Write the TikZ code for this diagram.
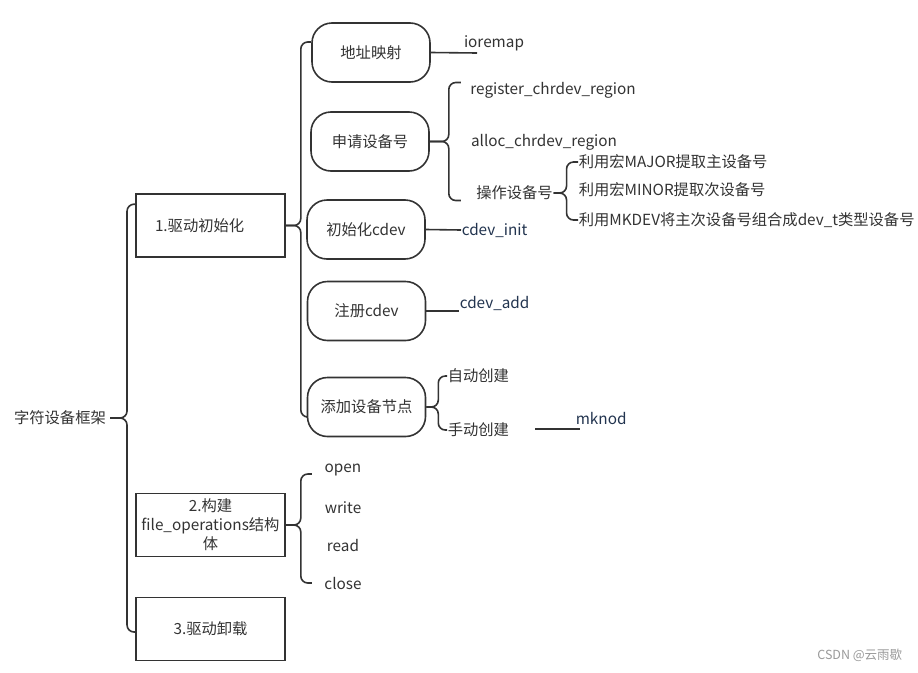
\documentclass[tikz,border=0pt]{standalone}
\usepackage{fontspec}
\setmainfont{Noto Sans CJK SC}
\usepackage{tikz}
\definecolor{ink}{HTML}{333333}
\definecolor{navy}{HTML}{22344F}
\definecolor{mark}{HTML}{9A9A9A}

\begin{document}
\begin{tikzpicture}
        [x=1pt,y=-1pt,line width=1.6pt,
         every node/.style={font=\fontsize{15.3}{19}\selectfont,text=ink},
         box/.style={draw=ink,minimum width=149,minimum height=63},
         pill/.style={draw=ink,rounded corners=20,minimum width=118,minimum height=59},
         brace/.style={draw=ink,rounded corners=7},
         link/.style={draw=ink}]
        \useasboundingbox[fill=white] (0,0) rectangle (918,672);

        \node (root) at (60,418) {字符设备框架};
        \node[box,text width=111,inner xsep=19,align=left] (b1) at (210.5,225.5) {1.驱动初始化};
        \node[box,inner xsep=1,align=center] (b2) at (210.5,525) {2.构建\\file\_operations结构\\体};
        \node[box] (b3) at (210.5,629) {3.驱动卸载};

        \node[pill] (dz) at (371,52.5) {地址映射};
        \node[pill] (sq) at (370,141.5) {申请设备号};
        \node[pill] (cs) at (366,229.5) {初始化cdev};
        \node[pill] (zc) at (366.5,311) {注册cdev};
        \node[pill] (tj) at (366.5,407) {添加设备节点};

        \node (io) at (494,43) {ioremap};
        \node (rg) at (553,90) {register\_chrdev\_region};
        \node (al) at (544,142) {alloc\_chrdev\_region};
        \node[inner xsep=0] (cz) at (514.5,193) {操作设备号};
        \node[anchor=west,inner xsep=0] (ma) at (578,162) {利用宏MAJOR提取主设备号};
        \node[anchor=west,inner xsep=0] (mi) at (578,190) {利用宏MINOR提取次设备号};
        \node[anchor=west,inner xsep=0] (mk) at (578,220) {利用MKDEV将主次设备号组合成dev\_t类型设备号};
        \node[text=navy,anchor=west,inner xsep=0] (ci) at (461,230) {cdev\_init};
        \node[text=navy,anchor=west,inner xsep=0] (ca) at (459,303) {cdev\_add};
        \node[anchor=west,inner xsep=0] (zd) at (447,376) {自动创建};
        \node[anchor=west,inner xsep=0] (sd) at (447,430) {手动创建};
        \node[text=navy,anchor=west,inner xsep=0] (mn) at (575,419) {mknod};

        \node (op) at (343,470) {open};
        \node (wr) at (343,508) {write};
        \node (rd) at (343,546) {read};
        \node (cl) at (343,584) {close};

        \node[text=mark,anchor=east,inner xsep=0,font=\fontsize{12.5}{14}\selectfont] (wm) at (903,655) {CSDN @云雨歇};

        % the braces
        \draw[brace] (root.east) -- ++(17,0) |- ([yshift=-11]b1.north west);
        \draw[brace] (root.east) -- ++(17,0) |- ([yshift=-3]b3.west);
        \draw[brace] (b1.east) -- ++(15,0) |- ([yshift=10.5]dz.west);
        \draw[brace] (b1.east) -- ++(15,0) |- ([yshift=-10]tj.west);
        \draw[brace] (sq.east) -- ++(19,0) |- ++(12,-59);
        \draw[brace] (sq.east) -- ++(19,0) |- ++(12,59);
        \draw[brace] (cz.east) -- ++(13,0) |- (ma.west);
        \draw[brace] (cz.east) -- ++(13,0) |- (mk.west);
        \draw[brace] (tj.east) -- ++(12,0) |- (zd.west);
        \draw[brace] (tj.east) -- ++(12,0) |- (sd.west);
        \draw[brace] (b2.east) -- ++(15,0) |- ++(11,-51);
        \draw[brace] (b2.east) -- ++(15,0) |- ++(11,58);
        % the lines
        \coordinate (ioend) at (477,53);
        \draw[link] (dz.east) -- (ioend);
        \draw[link] (cs.east) -- (ci.west);
        \draw[link] (zc.east) -- (zc.east -| ca.west);
        \coordinate (mkl) at (535,429);
        \draw[link] (mkl) -- ([xshift=5]mn.west |- mkl);
    \end{tikzpicture}
\end{document}
